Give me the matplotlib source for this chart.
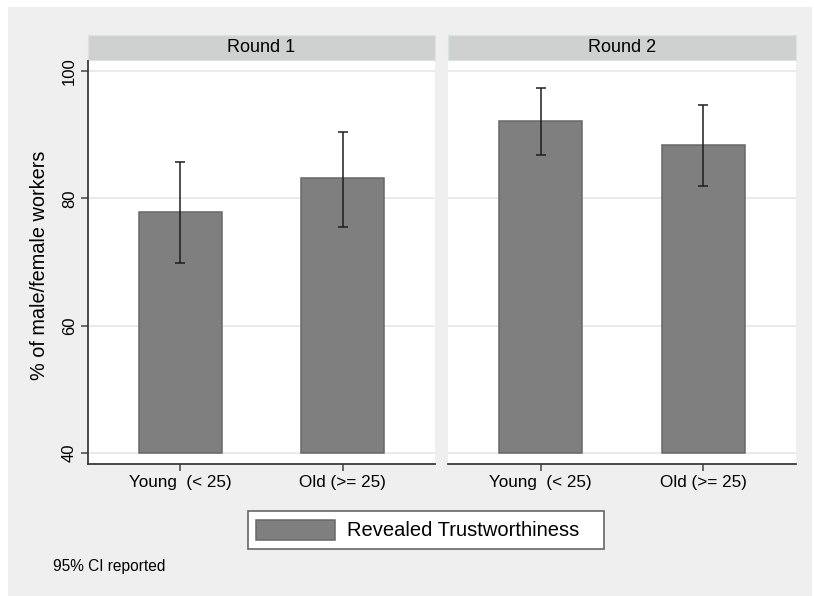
import numpy as np
import matplotlib.pyplot as plt
from matplotlib.patches import Rectangle, Patch

plt.rcParams['font.family'] = ['Liberation Sans', 'DejaVu Sans']

# mean share and 95% CI by age group, per round
rounds = ['Round 1', 'Round 2']
groups = ['Young  (< 25)', 'Old (>= 25)']
means = [[77.9, 83.2], [92.2, 88.4]]
ci_low = [[69.8, 75.5], [86.8, 82.0]]
ci_high = [[85.7, 90.4], [97.4, 94.6]]
yticks = [40, 60, 80, 100]

bar_fc = '#7f7f7f'
bar_ec = '#676767'
grid_c = '#e8e8e8'
bg_c = '#efefef'

fig = plt.figure(figsize=(8.14, 5.96), dpi=100, facecolor='white')
fig.patches.append(Rectangle((8/814, 0), 804/814, 1 - 7/596, transform=fig.transFigure,
                             facecolor=bg_c, edgecolor='none', zorder=-10))

lefts = [88/814, 448/814]
widths = [347/814, 348/814]
bottom = (596 - 464)/596
height = 403/596

x = np.arange(len(groups))
axes = []
for i, r in enumerate(rounds):
    ax = fig.add_axes([lefts[i], bottom, widths[i], height])
    axes.append(ax)
    ax.set_facecolor('white')
    m = np.array(means[i])
    lo = np.array(ci_low[i])
    hi = np.array(ci_high[i])
    ax.bar(x, m - 40, bottom=40, width=0.51, color=bar_fc, edgecolor=bar_ec,
           linewidth=1.1, zorder=3)
    ax.errorbar(x, m, yerr=[m - lo, hi - m], fmt='none', ecolor='#1e1e1e',
                elinewidth=1.1, capsize=3.3, capthick=1.1, zorder=4)
    for yt in yticks:
        ax.axhline(yt, color=grid_c, lw=1.3, zorder=1)
    ax.set_xlim(-0.57, 1.57)
    ax.set_ylim(38.27, 101.57)
    ax.set_xticks(x)
    ax.set_xticklabels(groups, fontsize=12.3)
    ax.tick_params(axis='x', length=5, width=1.1, color='#444444', pad=3)
    for s in ['top', 'right']:
        ax.spines[s].set_visible(False)
    ax.spines['bottom'].set_color('#3a3a3a')
    ax.spines['bottom'].set_linewidth(1.3)
    if i == 0:
        ax.set_yticks(yticks)
        ax.set_yticklabels([str(t) for t in yticks], fontsize=12, rotation=90, va='center')
        ax.tick_params(axis='y', length=5, width=1.1, color='#444444', pad=3)
        ax.spines['left'].set_color('#3a3a3a')
        ax.spines['left'].set_linewidth(1.3)
        ax.set_ylabel('% of male/female workers', fontsize=14.3)
        ax.yaxis.set_label_coords(-0.112, 0.494)
    else:
        ax.set_yticks([])
        ax.spines['left'].set_visible(False)
    # strip title
    strip = Rectangle((0, 1 + 1/403), 1, 25/403, transform=ax.transAxes, clip_on=False,
                      facecolor='#d0d0d0', edgecolor='#d9e3ea', lw=0.8)
    ax.add_patch(strip)
    ax.text(0.5, 1 + 13.5/403, r, transform=ax.transAxes, ha='center', va='center',
            fontsize=13)

fig.legend(handles=[Patch(facecolor=bar_fc, edgecolor=bar_ec, linewidth=1.1)],
           labels=['Revealed Trustworthiness   '], loc='center',
           bbox_to_anchor=(426/814, 1 - 530/596), fontsize=14.5, fancybox=False,
           framealpha=1, edgecolor='#666666', borderpad=0.42, handlelength=3.9,
           handleheight=1.15, handletextpad=0.6, borderaxespad=0)
fig.legends[0].get_frame().set_linewidth(1.2)

fig.text(53/814, 1 - 567/596, '95% CI reported', fontsize=11.2, va='center', ha='left')

fig.savefig('out.png', dpi=100, facecolor=fig.get_facecolor())
